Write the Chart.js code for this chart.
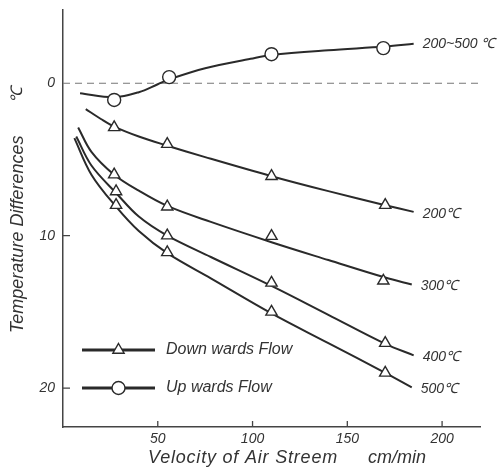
<!DOCTYPE html>
<html lang="en">
<head>
  <meta charset="UTF-8">
  <title>Temperature Differences vs Velocity of Air Stream</title>
  <script src="https://cdn.jsdelivr.net/npm/chart.js"></script>
  <style>
    body {
      margin: 0;
      background-color: #fff;
    }
    canvas {
      display: block;
    }
  </style>
</head>
<body>

  <canvas id="flowChart" width="497" height="474"></canvas>

<script>
  // ticks
  const xTicks = [50, 100, 150, 200];
  const yTicks = [0, 10, 20];

  // fitted curves
  const upCurveX = [9, 27, 40, 50, 56, 75, 99, 110, 140, 170, 185];
  const upCurveY = [0.66, 0.92, 0.59, 0.07, -0.25, -0.98, -1.6, -1.85, -2.16, -2.4, -2.58];
  const c200X = [12, 20, 27, 40, 55, 75, 110, 140, 170, 185];
  const c200Y = [1.7, 2.35, 2.85, 3.5, 4.1, 4.85, 6.1, 7.08, 8.0, 8.44];
  const c300X = [8, 15, 27, 40, 55, 78, 110, 140, 170, 184];
  const c300Y = [2.9, 4.5, 6.0, 7.05, 8.05, 9.1, 10.43, 11.6, 12.75, 13.2];
  const c400X = [7, 15, 28, 40, 55, 78, 110, 140, 170, 185];
  const c400Y = [3.5, 5.4, 7.2, 8.75, 10.0, 11.4, 13.3, 15.2, 17.1, 17.85];
  const c500X = [6, 15, 28, 40, 55, 78, 110, 140, 170, 184];
  const c500Y = [3.6, 6.0, 8.1, 9.7, 11.15, 12.8, 15.1, 17.05, 19.0, 19.95];

  // measured points
  const upPtX = [27, 56, 110, 169];
  const upPtY = [1.1, -0.4, -1.9, -2.3];
  const p200X = [27, 55, 110, 170];
  const p200Y = [2.9, 4.0, 6.1, 8.0];
  const p300X = [27, 55, 110, 169];
  const p300Y = [6.0, 8.1, 10.03, 12.96];
  const p400X = [28, 55, 110, 170];
  const p400Y = [7.1, 10.0, 13.1, 17.05];
  const p500X = [28, 55, 110, 170];
  const p500Y = [8.0, 11.1, 15.0, 19.0];

  const curveLabels = ['200~500 ℃', '200℃', '300℃', '400℃', '500℃'];

  const ink = '#2a2a2a';
  const fontFamily = '"Liberation Sans", Arial, sans-serif';

  const toPts = (xs, ys) => xs.map((x, i) => ({ x, y: ys[i] }));

  function curve(xs, ys) {
    return {
      type: 'line',
      data: toPts(xs, ys),
      borderColor: ink,
      borderWidth: 2,
      pointRadius: 0,
      tension: 0.35,
      fill: false,
      order: 1
    };
  }

  function marks(xs, ys, style) {
    return {
      type: 'scatter',
      data: toPts(xs, ys),
      pointStyle: style,
      pointRadius: 6.5,
      pointBackgroundColor: '#fff',
      pointBorderColor: ink,
      pointBorderWidth: 1.4,
      showLine: false,
      order: 0
    };
  }

  const datasets = [
    curve(upCurveX, upCurveY),
    curve(c200X, c200Y),
    curve(c300X, c300Y),
    curve(c400X, c400Y),
    curve(c500X, c500Y),
    marks(upPtX, upPtY, 'circle'),
    marks(p200X, p200Y, 'triangle'),
    marks(p300X, p300Y, 'triangle'),
    marks(p400X, p400Y, 'triangle'),
    marks(p500X, p500Y, 'triangle')
  ];

  const deco = {
    id: 'deco',
    beforeDatasetsDraw(chart) {
      const { ctx, chartArea, scales } = chart;
      const y0 = scales.y.getPixelForValue(0);
      ctx.save();
      ctx.strokeStyle = '#777';
      ctx.lineWidth = 1.1;
      ctx.setLineDash([7, 5]);
      ctx.beginPath();
      ctx.moveTo(chartArea.left, y0);
      ctx.lineTo(chartArea.right, y0);
      ctx.stroke();
      ctx.restore();
    },
    afterDraw(chart) {
      const { ctx, chartArea, scales } = chart;
      ctx.save();
      // inward tick marks
      ctx.strokeStyle = '#444';
      ctx.lineWidth = 1.3;
      ctx.beginPath();
      yTicks.filter(v => v !== 0).forEach(v => {
        const py = scales.y.getPixelForValue(v);
        ctx.moveTo(chartArea.left, py);
        ctx.lineTo(chartArea.left + 7, py);
      });
      xTicks.forEach(v => {
        const px = scales.x.getPixelForValue(v);
        ctx.moveTo(px, chartArea.bottom);
        ctx.lineTo(px, chartArea.bottom - 6);
      });
      ctx.stroke();

      // curve end labels
      ctx.fillStyle = '#333';
      ctx.font = 'italic 14px ' + fontFamily;
      ctx.textBaseline = 'middle';
      ctx.textAlign = 'left';
      curveLabels.forEach((txt, i) => {
        const pts = chart.getDatasetMeta(i).data;
        const last = pts[pts.length - 1];
        ctx.fillText(txt, last.x + 9, last.y + (i === 0 ? 0 : 2));
      });

      // legend
      const lx0 = chartArea.left + 19, lx1 = chartArea.left + 92;
      const rows = [
        { y: chartArea.top + 340, style: 'triangle', text: 'Down wards Flow' },
        { y: chartArea.top + 378, style: 'circle', text: 'Up wards Flow' }
      ];
      rows.forEach(r => {
        ctx.strokeStyle = ink;
        ctx.lineWidth = 2.8;
        ctx.beginPath();
        ctx.moveTo(lx0, r.y);
        ctx.lineTo(lx1, r.y);
        ctx.stroke();
        ctx.fillStyle = '#fff';
        ctx.strokeStyle = ink;
        ctx.lineWidth = 1.4;
        Chart.helpers.drawPoint(ctx, { pointStyle: r.style, radius: 6.5, rotation: 0, borderWidth: 1.4 }, (lx0 + lx1) / 2, r.y);
        ctx.fillStyle = '#333';
        ctx.font = 'italic 16px ' + fontFamily;
        ctx.fillText(r.text, lx1 + 11, r.y);
      });

      // axis titles
      ctx.font = 'italic 18px ' + fontFamily;
      ctx.textBaseline = 'middle';
      ctx.letterSpacing = '0.8px';
      ctx.fillText('Velocity of Air Streem', chartArea.left + 85, 458);
      ctx.letterSpacing = '0px';
      ctx.fillText('cm/min', chartArea.left + 305, 458);

      ctx.translate(18, 0);
      ctx.rotate(-Math.PI / 2);
      ctx.textAlign = 'left';
      ctx.fillText('Temperature Differences', -333, 0);
      ctx.font = 'italic 16px ' + fontFamily;
      ctx.fillText('℃', -103, 0);
      ctx.restore();
    }
  };

  const ctx = document.getElementById('flowChart').getContext('2d');
  const flowChart = new Chart(ctx, {
    data: { datasets },
    options: {
      responsive: false,
      animation: false,
      events: [],
      layout: { padding: { top: 10, right: 17, left: 0, bottom: 0 } },
      plugins: {
        legend: { display: false },
        tooltip: { enabled: false }
      },
      scales: {
        x: {
          type: 'linear',
          min: 0,
          max: 220,
          afterBuildTicks: s => { s.ticks = xTicks.map(v => ({ value: v })); },
          afterFit: s => { s.height = 47; s.paddingLeft = 0; s.paddingRight = 0; },
          grid: { color: 'transparent', drawTicks: false, drawOnChartArea: false },
          border: { display: true, color: '#444', width: 1.5 },
          ticks: {
            color: '#333',
            padding: 4,
            maxRotation: 0,
            font: { family: fontFamily, size: 14, style: 'italic' }
          }
        },
        y: {
          type: 'linear',
          reverse: true,
          min: -4.8,
          max: 22.55,
          afterBuildTicks: s => { s.ticks = yTicks.map(v => ({ value: v })); },
          afterFit: s => { s.width = 63; s.paddingTop = 0; s.paddingBottom = 0; },
          grid: { color: 'transparent', drawTicks: false, drawOnChartArea: false },
          border: { display: true, color: '#444', width: 1.5 },
          ticks: {
            color: '#333',
            padding: 8,
            font: { family: fontFamily, size: 14, style: 'italic' }
          }
        }
      }
    },
    plugins: [deco]
  });
</script>

</body>
</html>
